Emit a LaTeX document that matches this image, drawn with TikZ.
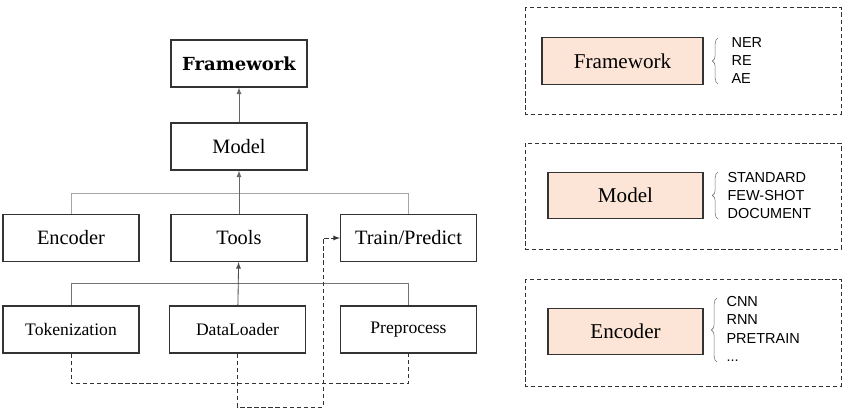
\documentclass[tikz,border=0pt]{standalone}
\usepackage{fontspec}
\setmainfont{Liberation Serif}
\setsansfont{Liberation Sans}
\newfontfamily\slabfont{DejaVu Serif}
\usetikzlibrary{decorations.pathreplacing}
\definecolor{peach}{HTML}{FCE4D6}

\begin{document}
\begin{tikzpicture}[x=0.025cm,y=-0.025cm,>=latex,thick,
  box/.style={draw=black!80,thick,minimum width=3.4cm,minimum height=1.175cm,inner sep=0pt,font=\fontsize{14.5}{16}\selectfont},
  smallbox/.style={box,font=\fontsize{12.5}{14}\selectfont},
  peachbox/.style={draw=black!80,thick,fill=peach,minimum height=1.16cm,inner sep=0pt,font=\fontsize{15}{17}\selectfont},
  bus/.style={draw=black!35,semithick},
  arrowline/.style={draw=black!60,semithick,->},
  dashline/.style={draw=black!80,semithick,dash pattern=on 3pt off 2pt},
  group/.style={draw=black!80,semithick,dash pattern=on 3pt off 2pt},
  kinds/.style={align=left,anchor=west,inner sep=0pt,font=\sffamily\fontsize{10.3}{13.1}\selectfont},
  curly/.style={draw=black!55,thin,decorate,decoration={brace,amplitude=4pt}}]
\useasboundingbox (0,0) rectangle (853,415);

% Hierarchy
\node[box,font=\slabfont\bfseries\fontsize{12.8}{14}\selectfont] (fw) at (239,63.5) {Framework};
\node[box] (model) at (239,146.5) {Model};

\node[box] (enc)   at (71,238)    {Encoder};
\node[box] (tools) at (239,238)   {Tools};
\node[box] (train) at (408.5,238) {Train/Predict};

\node[smallbox] (tok) at (71,329.5)    {Tokenization};
\node[smallbox] (dl)  at (237.5,329.5) {DataLoader};
\node[smallbox] (pre) at (408.5,329.5) {Preprocess};

\coordinate (busA) at (239,193);
\coordinate (busB) at (239,283);
\coordinate (turn) at (323,407);

\draw[arrowline] (model) -- (fw);
\draw[bus] (enc.north) -- (enc.north |- busA) -- (train.north |- busA) -- (train.north);
\draw[arrowline] (tools) -- (model);
\draw[bus,draw=black!55] (tok.north) -- (tok.north |- busB) -- (pre.north |- busB) -- (pre.north);
\draw[arrowline,draw=black!70] (dl) -- (tools);

\draw[dashline] (tok.south) -- ++(0,30) -| (pre.south);
\draw[dashline,->] (dl.south) |- (turn) |- (train.west);

% Details
\draw[group] (525,7)   rectangle (841,114);
\draw[group] (525,143) rectangle (841,249);
\draw[group] (525,279) rectangle (841,386);

\node[peachbox,minimum width=4.025cm] (fwR)    at (622.5,61)    {Framework};
\node[peachbox,minimum width=3.875cm] (modelR) at (625.5,195.5) {Model};
\node[peachbox,minimum width=3.875cm] (encR)   at (625.5,331.5) {Encoder};

\draw[curly] (718,84) -- (718,38);
\node[kinds] (fwK) at (731,60.5) {NER\\RE\\AE};

\draw[curly] (718,219) -- (718,172);
\node[kinds] (modelK) at (727,195.5) {STANDARD\\FEW-SHOT\\DOCUMENT};

\draw[curly] (717,362) -- (717,298);
\node[kinds] (encK) at (726,329) {CNN\\RNN\\PRETRAIN\\...};

\end{tikzpicture}
\end{document}
